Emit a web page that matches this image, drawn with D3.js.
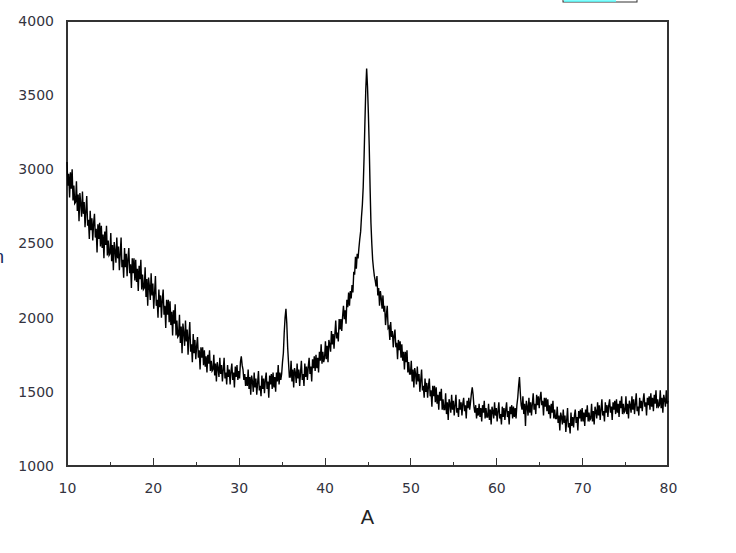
<!DOCTYPE html>
<html>
<head>
<meta charset="utf-8">
<script src="https://cdn.jsdelivr.net/npm/d3@7"></script>
<style>
  html, body { margin: 0; padding: 0; background: #fff; }
  svg { display: block; }
</style>
</head>
<body>
<svg id="chart" width="736" height="553"></svg>
<script>
// ---- data ----
const angleStart = 10;      // 2-theta of first sample
const angleStep = 0.1;      // sampling step
const intensity = [
  // 10.x
  3050, 2890, 2970, 2810, 2980, 2870, 3000, 2790, 2890, 2770,
  // 11.x
  2780, 2920, 2720, 2830, 2650, 2840, 2770, 2680, 2850, 2700,
  // 12.x
  2780, 2610, 2720, 2820, 2620, 2660, 2530, 2720, 2590, 2670,
  // 13.x
  2520, 2640, 2700, 2540, 2600, 2440, 2630, 2530, 2640, 2480,
  // 14.x
  2620, 2470, 2560, 2400, 2580, 2490, 2620, 2420, 2520, 2420,
  // 15.x
  2430, 2570, 2380, 2490, 2320, 2510, 2450, 2370, 2540, 2400,
  // 16.x
  2480, 2320, 2430, 2540, 2340, 2390, 2270, 2470, 2340, 2430,
  // 17.x
  2280, 2400, 2470, 2300, 2360, 2200, 2400, 2300, 2400, 2250,
  // 18.x
  2390, 2240, 2330, 2180, 2350, 2260, 2390, 2190, 2290, 2190,
  // 19.x
  2200, 2340, 2140, 2260, 2080, 2270, 2210, 2120, 2300, 2150,
  // 20.x
  2230, 2060, 2170, 2280, 2080, 2120, 2000, 2190, 2070, 2150,
  // 21.x
  2000, 2120, 2190, 2020, 2080, 1930, 2120, 2020, 2120, 1970,
  // 22.x
  2110, 1950, 2040, 1880, 2050, 1960, 2090, 1880, 1980, 1870,
  // 23.x
  1880, 2020, 1830, 1940, 1760, 1960, 1900, 1810, 1980, 1840,
  // 24.x
  1920, 1750, 1870, 1970, 1770, 1820, 1700, 1890, 1760, 1850,
  // 25.x
  1720, 1810, 1870, 1730, 1780, 1650, 1800, 1730, 1800, 1680,
  // 26.x
  1780, 1670, 1740, 1630, 1750, 1690, 1780, 1640, 1710, 1640,
  // 27.x
  1650, 1750, 1610, 1690, 1570, 1700, 1660, 1600, 1730, 1620,
  // 28.x
  1680, 1570, 1650, 1730, 1590, 1630, 1550, 1680, 1600, 1650,
  // 29.x
  1550, 1640, 1690, 1580, 1630, 1530, 1670, 1600, 1680, 1580,
  // 30.x
  1640, 1590, 1700, 1740, 1680, 1650, 1580, 1620, 1540, 1600,
  // 31.x
  1540, 1650, 1520, 1600, 1480, 1610, 1570, 1500, 1630, 1530,
  // 32.x
  1590, 1480, 1560, 1640, 1510, 1540, 1470, 1610, 1520, 1590,
  // 33.x
  1490, 1580, 1630, 1520, 1570, 1460, 1610, 1550, 1620, 1520,
  // 34.x
  1630, 1530, 1600, 1500, 1630, 1570, 1680, 1550, 1630, 1580,
  // 35.x
  1620, 1700, 1760, 1900, 2000, 2060, 1960, 1800, 1700, 1600,
  // 36.x
  1600, 1710, 1570, 1650, 1530, 1660, 1630, 1560, 1690, 1590,
  // 37.x
  1650, 1540, 1630, 1710, 1580, 1620, 1540, 1690, 1600, 1670,
  // 38.x
  1580, 1670, 1730, 1620, 1670, 1570, 1720, 1660, 1740, 1640,
  // 39.x
  1750, 1660, 1730, 1630, 1770, 1710, 1820, 1690, 1770, 1700,
  // 40.x
  1730, 1840, 1720, 1810, 1700, 1850, 1820, 1770, 1910, 1820,
  // 41.x
  1890, 1790, 1890, 1980, 1860, 1900, 1840, 1990, 1920, 1990,
  // 42.x
  1910, 2010, 2080, 1990, 2050, 1960, 2120, 2070, 2170, 2080,
  // 43.x
  2180, 2130, 2220, 2170, 2310, 2290, 2410, 2330, 2430, 2400,
  // 44.x
  2470, 2530, 2580, 2680, 2760, 2880, 3080, 3320, 3540, 3680,
  // 45.x
  3560, 3380, 3160, 2880, 2640, 2500, 2390, 2330, 2280, 2250,
  // 46.x
  2210, 2280, 2150, 2200, 2080, 2180, 2130, 2060, 2150, 2040,
  // 47.x
  2080, 1950, 2020, 2080, 1930, 1940, 1850, 1970, 1870, 1910,
  // 48.x
  1800, 1880, 1920, 1800, 1830, 1720, 1850, 1780, 1840, 1730,
  // 49.x
  1820, 1710, 1770, 1650, 1770, 1700, 1780, 1630, 1700, 1620,
  // 50.x
  1620, 1710, 1570, 1650, 1530, 1660, 1620, 1550, 1670, 1570,
  // 51.x
  1620, 1500, 1580, 1650, 1510, 1540, 1460, 1590, 1500, 1560,
  // 52.x
  1460, 1540, 1590, 1470, 1510, 1400, 1540, 1470, 1540, 1430,
  // 53.x
  1530, 1420, 1480, 1380, 1500, 1440, 1520, 1380, 1450, 1380,
  // 54.x
  1380, 1490, 1350, 1430, 1310, 1450, 1420, 1360, 1480, 1380,
  // 55.x
  1440, 1340, 1410, 1480, 1360, 1390, 1330, 1450, 1380, 1430,
  // 56.x
  1340, 1420, 1460, 1370, 1410, 1320, 1440, 1390, 1460, 1380,
  // 57.x
  1430, 1490, 1530, 1480, 1400, 1360, 1410, 1320, 1390, 1340,
  // 58.x
  1420, 1330, 1390, 1300, 1410, 1360, 1440, 1320, 1390, 1330,
  // 59.x
  1330, 1420, 1310, 1380, 1280, 1400, 1370, 1320, 1430, 1340,
  // 60.x
  1390, 1300, 1370, 1430, 1320, 1350, 1280, 1400, 1330, 1390,
  // 61.x
  1310, 1380, 1430, 1330, 1370, 1280, 1400, 1350, 1410, 1320,
  // 62.x
  1400, 1330, 1390, 1320, 1410, 1460, 1540, 1600, 1490, 1410,
  // 63.x
  1380, 1470, 1350, 1420, 1270, 1440, 1400, 1340, 1460, 1360,
  // 64.x
  1430, 1340, 1420, 1490, 1380, 1420, 1350, 1480, 1410, 1470,
  // 65.x
  1390, 1460, 1500, 1410, 1440, 1340, 1460, 1400, 1460, 1370,
  // 66.x
  1450, 1350, 1410, 1320, 1420, 1360, 1440, 1320, 1380, 1320,
  // 67.x
  1320, 1400, 1290, 1340, 1240, 1360, 1330, 1280, 1380, 1290,
  // 68.x
  1340, 1230, 1310, 1390, 1260, 1290, 1220, 1360, 1270, 1330,
  // 69.x
  1260, 1340, 1380, 1290, 1330, 1240, 1370, 1320, 1380, 1300,
  // 70.x
  1390, 1300, 1360, 1270, 1380, 1330, 1410, 1300, 1360, 1310,
  // 71.x
  1320, 1420, 1300, 1370, 1280, 1400, 1370, 1320, 1430, 1340,
  // 72.x
  1410, 1310, 1380, 1450, 1340, 1370, 1300, 1430, 1360, 1410,
  // 73.x
  1330, 1410, 1450, 1360, 1400, 1310, 1430, 1380, 1440, 1350,
  // 74.x
  1450, 1360, 1420, 1330, 1440, 1390, 1470, 1350, 1420, 1360,
  // 75.x
  1370, 1470, 1350, 1420, 1320, 1440, 1410, 1360, 1470, 1380,
  // 76.x
  1450, 1350, 1420, 1490, 1370, 1400, 1340, 1460, 1390, 1440,
  // 77.x
  1370, 1440, 1490, 1400, 1430, 1340, 1460, 1410, 1470, 1380,
  // 78.x
  1490, 1400, 1460, 1370, 1480, 1420, 1510, 1390, 1450, 1400,
  // 79.x
  1410, 1510, 1390, 1460, 1360, 1480, 1450, 1400, 1510, 1420,
  // 80.0
  1440
];
const xTicks = [10, 20, 30, 40, 50, 60, 70, 80];
const xMinorTicks = [15, 25, 35, 45, 55, 65, 75];
const yTicks = [1000, 1500, 2000, 2500, 3000, 3500, 4000];
const xTitle = "A";

// ---- layout ----
const svg = d3.select("#chart");
const plotLeft = 67, plotRight = 668, plotTop = 21, plotBottom = 466;
const x = d3.scaleLinear().domain([10, 80]).range([plotLeft, plotRight]);
const y = d3.scaleLinear().domain([1000, 4000]).range([plotBottom, plotTop]);
const font = "'DejaVu Sans', Verdana, sans-serif";
const textColor = "#333340";

const data = intensity.map((v, i) => ({ a: angleStart + i * angleStep, v }));

// frame
svg.append("rect")
  .attr("x", plotLeft).attr("y", plotTop)
  .attr("width", plotRight - plotLeft).attr("height", plotBottom - plotTop)
  .attr("fill", "none").attr("stroke", "#333").attr("stroke-width", 1.2)
  .attr("shape-rendering", "crispEdges");

// x axis (ticks pointing inward)
const gx = svg.append("g").attr("transform", `translate(0,${plotBottom})`);
gx.call(d3.axisBottom(x).tickValues(xTicks).tickSize(-8).tickPadding(17).tickFormat(d3.format("d")));
gx.select(".domain").remove();
gx.selectAll(".tick line").attr("stroke", "#333").attr("shape-rendering", "crispEdges");
gx.selectAll(".tick text").attr("font-family", font).attr("font-size", 14).attr("fill", textColor);
const gxm = svg.append("g").attr("transform", `translate(0,${plotBottom})`);
gxm.call(d3.axisBottom(x).tickValues(xMinorTicks).tickSize(-4).tickFormat(""));
gxm.select(".domain").remove();
gxm.selectAll(".tick line").attr("stroke", "#333").attr("shape-rendering", "crispEdges");

// y axis (labels only)
const gy = svg.append("g").attr("transform", `translate(${plotLeft},0)`);
gy.call(d3.axisLeft(y).tickValues(yTicks).tickSize(0).tickPadding(13).tickFormat(d3.format("d")));
gy.select(".domain").remove();
gy.selectAll(".tick text").attr("font-family", font).attr("font-size", 14).attr("fill", textColor);

// data line
const line = d3.line().x(d => x(d.a)).y(d => y(d.v));
svg.append("path")
  .datum(data)
  .attr("d", line)
  .attr("fill", "none")
  .attr("stroke", "#000")
  .attr("stroke-width", 1.4)
  .attr("stroke-linejoin", "miter");

// x title
svg.append("text")
  .attr("x", (plotLeft + plotRight) / 2).attr("y", 524)
  .attr("text-anchor", "middle")
  .attr("font-family", "'Liberation Sans', Arial, sans-serif")
  .attr("font-size", 20).attr("fill", "#222")
  .text(xTitle);

// clipped y title remnant at far left (cut by the edge, as in the reference)
svg.append("text")
  .attr("x", 4).attr("y", 263)
  .attr("text-anchor", "end")
  .attr("font-family", "'Liberation Sans', Arial, sans-serif")
  .attr("font-size", 18).attr("fill", "#1a2a5a")
  .text("n");

// clipped legend box at top
svg.append("rect")
  .attr("x", 563).attr("y", -20).attr("width", 74).attr("height", 22)
  .attr("fill", "none").attr("stroke", "#333").attr("stroke-width", 1);
svg.append("line")
  .attr("x1", 564).attr("x2", 616).attr("y1", 1).attr("y2", 1)
  .attr("stroke", "#5ff").attr("stroke-width", 1.5);
</script>
</body>
</html>
